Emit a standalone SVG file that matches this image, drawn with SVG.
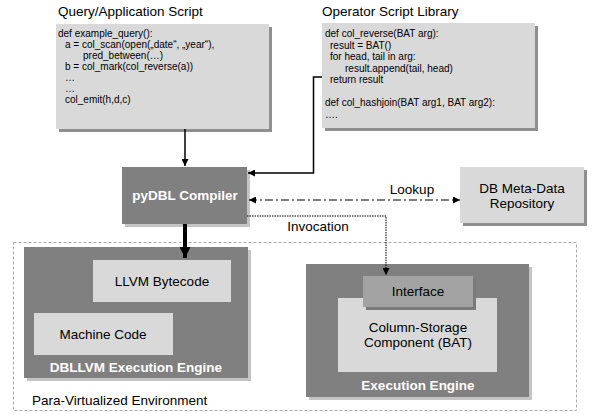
<svg xmlns="http://www.w3.org/2000/svg" width="592" height="416" viewBox="0 0 592 416">
<defs>
<style>
text{font-family:"Liberation Sans",Arial,sans-serif;fill:#000}
.title{font-size:13.5px}
.code{font-size:10px}
.lbl{font-size:13.5px;text-anchor:middle}
.wb{font-size:13.5px;font-weight:bold;fill:#fff;text-anchor:middle}
.light{fill:#d9d9d9}
.dark{fill:#808080}
.shd{fill:#8f8f8f}
.shl{fill:#c4c4c4}
.conn{stroke:#000;fill:none}
</style>
<marker id="ah" viewBox="0 0 10 10" refX="10" refY="5" markerWidth="8" markerHeight="7" markerUnits="userSpaceOnUse" orient="auto-start-reverse"><path d="M0,0 L10,5 L0,10 z" fill="#000"/></marker>
<marker id="ahb" viewBox="0 0 10 10" refX="10" refY="5" markerWidth="11" markerHeight="11" markerUnits="userSpaceOnUse" orient="auto"><path d="M0,0 L10,5 L0,10 z" fill="#000"/></marker>
</defs>
<rect width="592" height="416" fill="#fff"/>

<g id="env">
<rect x="13.5" y="242.5" width="563" height="168" fill="none" stroke="#aaa" stroke-dasharray="3,2"/>
<text class="title" x="32" y="405">Para-Virtualized Environment</text>
</g>

<g id="query-script">
<text class="title" x="58" y="16">Query/Application Script</text>
<rect class="shd" x="59" y="27" width="213" height="105"/>
<rect class="light" x="56" y="24" width="213" height="105"/>
<text class="code" x="58" y="37">def example_query():</text>
<text class="code" x="65" y="48">a = col_scan(open(„date“, „year“),</text>
<text class="code" x="83" y="59">pred_between(…)</text>
<text class="code" x="65" y="70">b = col_mark(col_reverse(a))</text>
<text class="code" x="65" y="81">…</text>
<text class="code" x="65" y="92">…</text>
<text class="code" x="65" y="103">col_emit(h,d,c)</text>
</g>

<g id="operator-library">
<text class="title" x="322" y="16">Operator Script Library</text>
<rect class="shd" x="325" y="26" width="213" height="105"/>
<rect class="light" x="322" y="23" width="213" height="105"/>
<text class="code" x="325" y="37">def col_reverse(BAT arg):</text>
<text class="code" x="330" y="48.5">result = BAT()</text>
<text class="code" x="330" y="60">for head, tail in arg:</text>
<text class="code" x="345" y="71.5">result.append(tail, head)</text>
<text class="code" x="330" y="83">return result</text>
<text class="code" x="325" y="106">def col_hashjoin(BAT arg1, BAT arg2):</text>
<text class="code" x="325" y="117.5">….</text>
</g>

<g id="compiler">
<rect class="shl" x="125" y="170" width="125" height="57"/>
<rect class="dark" x="122" y="167" width="125" height="57"/>
<text class="wb" x="185" y="200">pyDBL Compiler</text>
</g>

<g id="metadata">
<rect class="shd" x="463" y="170" width="124" height="56"/>
<rect class="light" x="460" y="167" width="124" height="56"/>
<text class="lbl" x="522" y="192.5">DB Meta-Data</text>
<text class="lbl" x="522" y="207.5">Repository</text>
</g>

<g id="dbllvm-engine">
<rect class="shl" x="27" y="250" width="224" height="131"/>
<rect class="dark" x="24" y="247" width="224" height="131"/>
<text class="wb" x="136" y="372">DBLLVM Execution Engine</text>
</g>

<g id="llvm-bytecode">
<rect class="light" x="93" y="260" width="138" height="42"/>
<text class="lbl" x="162" y="286">LLVM Bytecode</text>
</g>

<g id="machine-code">
<rect class="light" x="34" y="313" width="139" height="42"/>
<text class="lbl" x="103" y="339">Machine Code</text>
</g>

<g id="execution-engine">
<rect class="shl" x="309" y="267" width="223" height="133"/>
<rect class="dark" x="306" y="264" width="223" height="133"/>
<text class="wb" x="418" y="390">Execution Engine</text>
</g>

<g id="column-storage">
<rect class="light" x="338" y="298" width="159" height="74"/>
<text class="lbl" x="418" y="332">Column-Storage</text>
<text class="lbl" x="418" y="347">Component (BAT)</text>
</g>

<g id="interface">
<rect fill="#7a7a7a" x="366" y="279" width="110" height="31"/>
<rect fill="#a3a3a3" x="363" y="276" width="110" height="31"/>
<text class="lbl" x="418" y="296">Interface</text>
</g>

<g id="connectors">
<path class="conn" d="M185,129 V166" stroke-width="1.5" marker-end="url(#ah)"/>
<path class="conn" d="M322,77 H313.5 V173 H248" stroke-width="1.5" marker-end="url(#ah)"/>
<path class="conn" d="M249,200 H460" stroke-width="1" stroke-dasharray="8,3,2,3" marker-start="url(#ah)" marker-end="url(#ah)"/>
<path class="conn" d="M247,216 H386 V275" stroke-width="1" stroke="#333" stroke-dasharray="1.5,1" marker-end="url(#ah)"/>
<path class="conn" d="M185,224 V258" stroke-width="4" marker-end="url(#ahb)"/>
<text class="lbl" x="412" y="194">Lookup</text>
<text class="lbl" x="318" y="231">Invocation</text>
</g>
</svg>
